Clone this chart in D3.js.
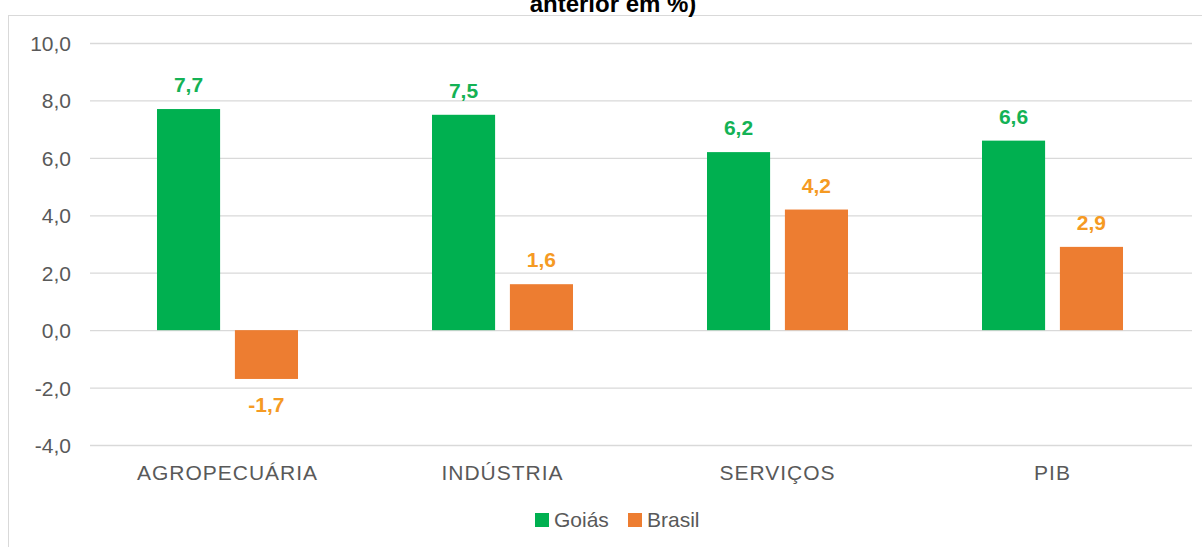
<!DOCTYPE html>
<html>
<head>
<meta charset="utf-8">
<script src="https://cdn.jsdelivr.net/npm/d3@7/dist/d3.min.js"></script>
<style>
  body { margin: 0; background: #fff; }
  svg { display: block; font-family: "Liberation Sans", Arial, sans-serif; }
</style>
</head>
<body>
<div id="chart"></div>
<script>
const categories = ["AGROPECUÁRIA", "INDÚSTRIA", "SERVIÇOS", "PIB"];
const seriesNames = ["Goiás", "Brasil"];
const goias = [7.7, 7.5, 6.2, 6.6];
const brasil = [-1.7, 1.6, 4.2, 2.9];
const yTicks = [-4, -2, 0, 2, 4, 6, 8, 10];
const titleText = "anterior em %)";

const W = 1202, H = 547;
const margin = { left: 90, right: 1190 };

const colors = { "Goiás": "#00b050", "Brasil": "#ed7d31" };
const labelColors = { "Goiás": "#14b255", "Brasil": "#f59a23" };

// pt-BR style number: comma decimal, plain hyphen for negatives
const fmt = d => d3.format(".1f")(d).replace(".", ",").replace("\u2212", "-");

const rows = categories.map((c, i) => ({ cat: c, values: [
  { name: "Goiás", v: goias[i] },
  { name: "Brasil", v: brasil[i] }
]}));

const svg = d3.select("#chart").append("svg")
  .attr("width", W).attr("height", H);

// outer frame
svg.append("rect")
  .attr("x", 8.5).attr("y", 15.5)
  .attr("width", W + 10).attr("height", H)
  .attr("fill", "none").attr("stroke", "#d9d9d9");

// title, cut off at the top like in the source
svg.append("text")
  .attr("x", 613).attr("y", 12)
  .attr("text-anchor", "middle")
  .attr("font-size", 24).attr("font-weight", "bold")
  .attr("fill", "#000")
  .text(titleText);

const x = d3.scaleBand()
  .domain(categories)
  .range([margin.left, margin.right]);

const x1 = d3.scaleBand()
  .domain(seriesNames)
  .range([0, x.bandwidth()])
  .paddingInner(0.19)
  .paddingOuter(0.86);

const y = d3.scaleLinear()
  .domain([-4, 10])
  .range([445, 43]);

// grid + y axis
const yAxis = svg.append("g")
  .attr("transform", `translate(${margin.left},0)`)
  .call(d3.axisLeft(y).tickValues(yTicks)
    .tickFormat(fmt)
    .tickSize(-(1192 - margin.left)));
yAxis.select(".domain").remove();
yAxis.selectAll(".tick line").attr("stroke", "#d9d9d9").attr("stroke-width", 1.3);
yAxis.selectAll(".tick text")
  .attr("fill", "#595959").attr("font-size", 21)
  .attr("font-family", "Liberation Sans, Arial, sans-serif")
  .attr("x", -19).attr("dy", "0.36em");

// x axis labels
const xAxis = svg.append("g")
  .attr("transform", `translate(0,${y(-4)})`)
  .call(d3.axisBottom(x).tickSize(0));
xAxis.select(".domain").remove();
xAxis.selectAll(".tick text")
  .attr("fill", "#595959").attr("font-size", 21)
  .attr("letter-spacing", 1)
  .attr("font-family", "Liberation Sans, Arial, sans-serif")
  .attr("y", 35).attr("dy", 0);

// bars
const groups = svg.append("g").selectAll("g")
  .data(rows).enter().append("g")
  .attr("transform", d => `translate(${x(d.cat)},0)`);

groups.selectAll("rect")
  .data(d => d.values).enter().append("rect")
  .attr("x", d => x1(d.name))
  .attr("width", x1.bandwidth())
  .attr("y", d => y(Math.max(0, d.v)))
  .attr("height", d => Math.abs(y(d.v) - y(0)))
  .attr("fill", d => colors[d.name]);

groups.selectAll("text")
  .data(d => d.values).enter().append("text")
  .attr("x", d => x1(d.name) + x1.bandwidth() / 2)
  .attr("y", d => d.v >= 0 ? y(d.v) - 17 : y(d.v) + 33)
  .attr("text-anchor", "middle")
  .attr("font-size", 21).attr("font-weight", "bold")
  .attr("fill", d => labelColors[d.name])
  .text(d => fmt(d.v));

// legend
const legend = svg.append("g").attr("transform", "translate(535,513)");
const legendX = [0, 93];
seriesNames.forEach((n, i) => {
  const g = legend.append("g").attr("transform", `translate(${legendX[i]},0)`);
  g.append("rect").attr("width", 14).attr("height", 14).attr("fill", colors[n]);
  g.append("text").attr("x", 19).attr("y", 14)
    .attr("font-size", 21).attr("fill", "#595959").text(n);
});
</script>
</body>
</html>
